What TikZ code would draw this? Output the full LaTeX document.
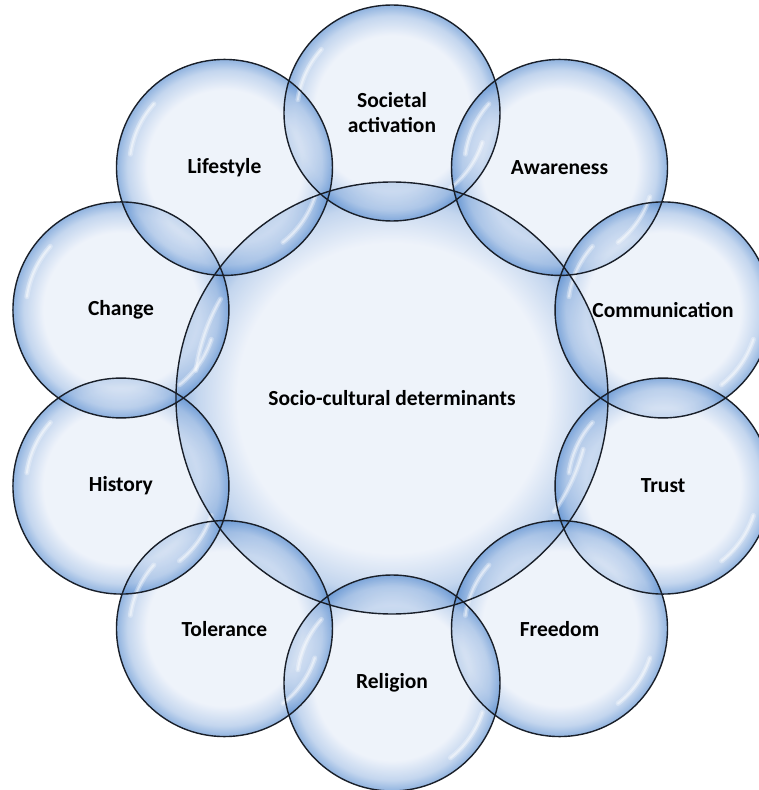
\documentclass[tikz,border=0pt]{standalone}
\usepackage{fontspec}
\setmainfont{Carlito}
\usepackage{tikz}

\definecolor{bubin}{rgb}{0.89,0.92,0.97}
\definecolor{bubout}{rgb}{0.30,0.52,0.80}
\definecolor{bubline}{rgb}{0.10,0.12,0.16}
\pgfdeclareradialshading{bubble}{\pgfpoint{0bp}{0bp}}{color(0bp)=(bubin); color(18bp)=(bubin); color(22.5bp)=(bubout!45!bubin); color(25bp)=(bubout); color(50bp)=(bubout)}

\begin{document}
\begin{tikzpicture}[x=1pt, y=1pt,
      bubble/.style={circle, inner sep=0pt, shading=bubble, fill opacity=0.62,
        text opacity=1, align=center, font=\fontsize{21.5}{25}\selectfont\bfseries},
      outline/.style={draw=bubline, line width=1.4pt},
      gloss/.style={white, line cap=round, line width=5pt, opacity=0.3},
      glosscore/.style={white, line cap=round, line width=2pt, opacity=0.45}]
      \useasboundingbox (-392,-392) rectangle (366,398);
      % central circle
      \node[bubble, minimum size=432pt] (SC) at (0,0) {Socio-cultural determinants};
      % ring of determinants
      \foreach \ang/\txt [count=\i] in {90/{Societal\\activation}, 54/Awareness,
          18/Communication, -18/Trust, -54/Freedom, -90/Religion,
          -126/Tolerance, -162/History, 162/Change, 126/Lifestyle}
        \node[bubble, minimum size=216pt] (B-\i) at (\ang:285) {\txt};
      % highlights
      \foreach \s in {gloss, glosscore} {
        \draw[\s] ([shift={(150:198)}]SC.center) arc[start angle=150, end angle=172, radius=198];
        \draw[\s] ([shift={(-15:198)}]SC.center) arc[start angle=-15, end angle=-35, radius=198];
        \foreach \i in {1,...,10} {
          \draw[\s] ([shift={(138:95)}]B-\i.center) arc[start angle=138, end angle=172, radius=95];
          \draw[\s] ([shift={(-18:95)}]B-\i.center) arc[start angle=-18, end angle=-52, radius=95];
        }
      }
      % outlines on top
      \draw[outline] (SC.center) circle[radius=216];
      \foreach \i in {1,...,10}
        \draw[outline] (B-\i.center) circle[radius=108];
    \end{tikzpicture}
\end{document}
